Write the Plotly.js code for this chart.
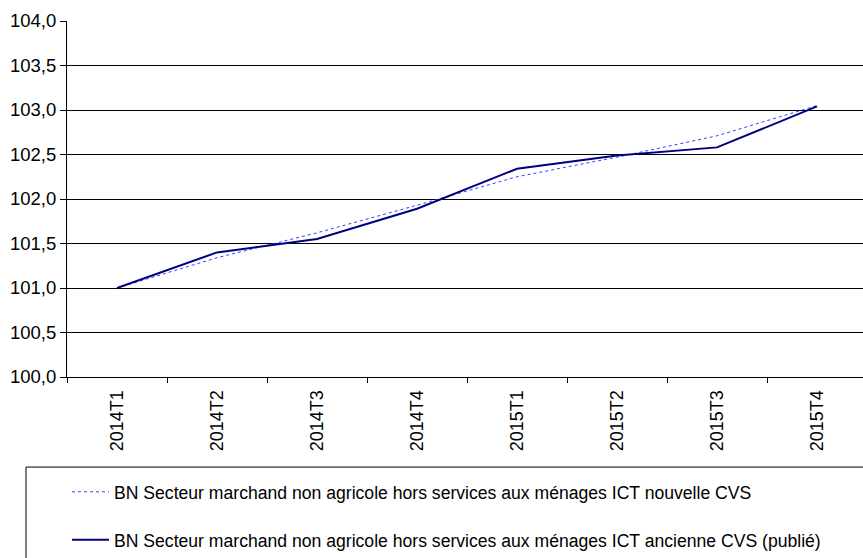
<!DOCTYPE html>
<html>
<head>
<meta charset="utf-8">
<script src="https://cdn.plot.ly/plotly-3.0.1.min.js"></script>
<style>html,body{margin:0;padding:0;background:#fff;}#chart{width:863px;height:558px;}</style>
</head>
<body>
<div id="chart"></div>
<script>
const categories = ["2014T1","2014T2","2014T3","2014T4","2015T1","2015T2","2015T3","2015T4"];
const nouvelleCVS = [101.00, 101.34, 101.62, 101.93, 102.25, 102.47, 102.71, 103.05];
const ancienneCVS = [101.00, 101.40, 101.55, 101.89, 102.34, 102.49, 102.58, 103.04];
const nameNouvelle = "BN Secteur marchand non agricole hors services aux ménages ICT nouvelle CVS";
const nameAncienne = "BN Secteur marchand non agricole hors services aux ménages ICT ancienne CVS (publié)";
const yTicks = [100, 100.5, 101, 101.5, 102, 102.5, 103, 103.5, 104];

const font = "Liberation Sans, Arial, sans-serif";
const traces = [
  {x: categories, y: nouvelleCVS, name: nameNouvelle, type: "scatter", mode: "lines",
   line: {color: "#3a3aff", width: 1, dash: "dot"}, legendgroup: "a"},
  {x: categories, y: ancienneCVS, name: nameAncienne, type: "scatter", mode: "lines",
   line: {color: "#000080", width: 2}, legendgroup: "b"}
];
const layout = {
  width: 863, height: 558,
  margin: {l: 67, r: 0, t: 21, b: 181},
  paper_bgcolor: "#fff", plot_bgcolor: "#fff",
  separators: ", ",
  font: {family: font, size: 18, color: "#000"},
  showlegend: true,
  xaxis: {
    type: "category", range: [-0.5, 7.46],
    showgrid: false, showline: true, linecolor: "#000", linewidth: 1,
    ticks: "outside", tickson: "boundaries", ticklen: 5, tickcolor: "#000",
    tickangle: -90, tickfont: {family: font, size: 18},
    ticklabelstandoff: 5, zeroline: false
  },
  yaxis: {
    range: [100, 104], tickvals: yTicks, tickformat: ".1f",
    showgrid: true, gridcolor: "#000", gridwidth: 1,
    showline: true, linecolor: "#000", linewidth: 1,
    ticks: "outside", ticklen: 6, tickcolor: "#000",
    tickfont: {family: font, size: 18.5}, zeroline: false
  },
  legend: {
    x: 0.0, xanchor: "left", y: -0.272, yanchor: "top",
    bgcolor: "rgba(0,0,0,0)", borderwidth: 0,
    tracegroupgap: 22, itemwidth: 37,
    font: {family: font, size: 17.6}
  },
  shapes: [{
    type: "rect", xref: "paper", yref: "paper",
    x0: -0.0515, x1: 1.02, y0: -0.253, y1: -0.62,
    line: {color: "#000", width: 1}
  }]
};
Plotly.newPlot("chart", traces, layout, {displayModeBar: false, staticPlot: true});
</script>
</body>
</html>
